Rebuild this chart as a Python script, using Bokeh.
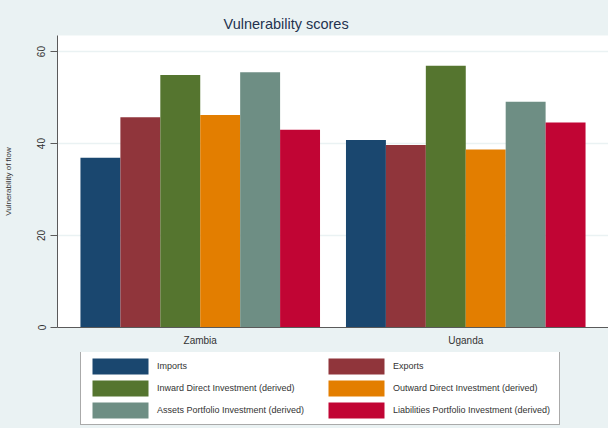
from bokeh.plotting import figure
from bokeh.layouts import column
from bokeh.models import ColumnDataSource, FactorRange, FixedTicker, Legend, LegendItem, Range1d
from bokeh.transform import dodge
from bokeh.embed import file_html
from bokeh.resources import INLINE

countries = ["Zambia", "Uganda"]
series = [
    "Imports",
    "Exports",
    "Inward Direct Investment (derived)",
    "Outward Direct Investment (derived)",
    "Assets Portfolio Investment (derived)",
    "Liabilities Portfolio Investment (derived)",
]
zambia = [36.9, 45.7, 54.9, 46.2, 55.5, 43.0]
uganda = [40.8, 39.7, 56.9, 38.7, 49.1, 44.6]
colors = ["#1a476f", "#90353b", "#55752f", "#e37e00", "#6e8e84", "#c10534"]
y_ticks = [0, 20, 40, 60]

FONT = "Liberation Sans"
BG = "#EAF2F3"

x_range = FactorRange(*countries, range_padding=0.0376, range_padding_units="absolute")
p = figure(
    frame_width=551, frame_height=292, x_range=x_range, y_range=(0, 63.5),
    output_backend="svg", toolbar_location=None,
    min_border_left=57, min_border_right=0, min_border_top=35, min_border_bottom=25,
)
p.border_fill_color = BG
p.background_fill_color = "white"
p.outline_line_color = None

p.title.text = "Vulnerability scores"
p.title.align = "left"
p.title.offset = 166
p.title.text_font = FONT
p.title.text_font_size = "14.5px"
p.title.text_font_style = "normal"
p.title.text_color = "#24324F"
p.title.standoff = 8

bar_w = 1 / 6.65
sources = []
for i, col in enumerate(colors):
    src = ColumnDataSource(dict(country=countries, value=[zambia[i], uganda[i]]))
    sources.append(src)
    p.vbar(x=dodge("country", (i - 2.5) * bar_w, range=p.x_range), top="value",
           width=bar_w, bottom=0, source=src, fill_color=col, line_color=None)

# axes
p.xgrid.grid_line_color = None
p.ygrid.grid_line_color = BG
p.ygrid.grid_line_width = 1.5
p.yaxis.ticker = FixedTicker(ticks=y_ticks)
p.yaxis.major_label_orientation = "vertical"
p.yaxis.major_tick_out = 7
p.yaxis.major_tick_in = 0
p.yaxis.minor_tick_line_color = None
p.yaxis.axis_line_color = "#5a5a5a"
p.yaxis.major_tick_line_color = "#5a5a5a"
p.yaxis.major_label_text_font = FONT
p.yaxis.major_label_text_font_size = "10px"
p.yaxis.major_label_text_color = "#333333"
p.yaxis.major_label_standoff = 5
p.yaxis.axis_label = "Vulnerability of flow"
p.yaxis.axis_label_text_font = FONT
p.yaxis.axis_label_text_font_size = "8px"
p.yaxis.axis_label_text_font_style = "normal"
p.yaxis.axis_label_text_color = "#333333"
p.yaxis.axis_label_standoff = 22

p.xaxis.axis_line_color = "#5a5a5a"
p.xaxis.major_tick_line_color = None
p.xaxis.major_tick_out = 0
p.xaxis.major_label_text_font = FONT
p.xaxis.major_label_text_font_size = "10px"
p.xaxis.major_label_text_color = "#333333"
p.xaxis.major_label_standoff = 7

# legend strip below the chart (bars here fall outside its visible y range)
q = figure(
    frame_width=551, height=76, x_range=p.x_range, y_range=Range1d(1000, 1001),
    output_backend="svg", toolbar_location=None,
    x_axis_location=None, y_axis_location=None,
    min_border_left=57, min_border_right=0, min_border_top=0, min_border_bottom=0,
)
q.border_fill_color = BG
q.background_fill_color = BG
q.outline_line_color = None
q.grid.grid_line_color = None

items = []
for i, (name, col) in enumerate(zip(series, colors)):
    r = q.vbar(x=dodge("country", (i - 2.5) * bar_w, range=q.x_range), top="value",
               width=bar_w, bottom=0, source=sources[i], fill_color=col, line_color=None)
    items.append(LegendItem(label=name, renderers=[r]))

legend = Legend(items=items, orientation="horizontal", ncols=2, location=(23, 3))
legend.label_text_font = FONT
legend.label_text_font_size = "9px"
legend.label_text_color = "#333333"
legend.glyph_width = 70
legend.glyph_height = 20
legend.label_height = 20
legend.label_width = 162
legend.label_standoff = 2
legend.padding = 4
legend.spacing = 2
legend.margin = 0
legend.border_line_color = "#555555"
legend.border_line_width = 1
legend.background_fill_color = "white"
legend.background_fill_alpha = 1
q.add_layout(legend, "center")

layout = column(p, q, spacing=0, styles={"background-color": BG})
open("out.html", "w").write(file_html(layout, INLINE))
